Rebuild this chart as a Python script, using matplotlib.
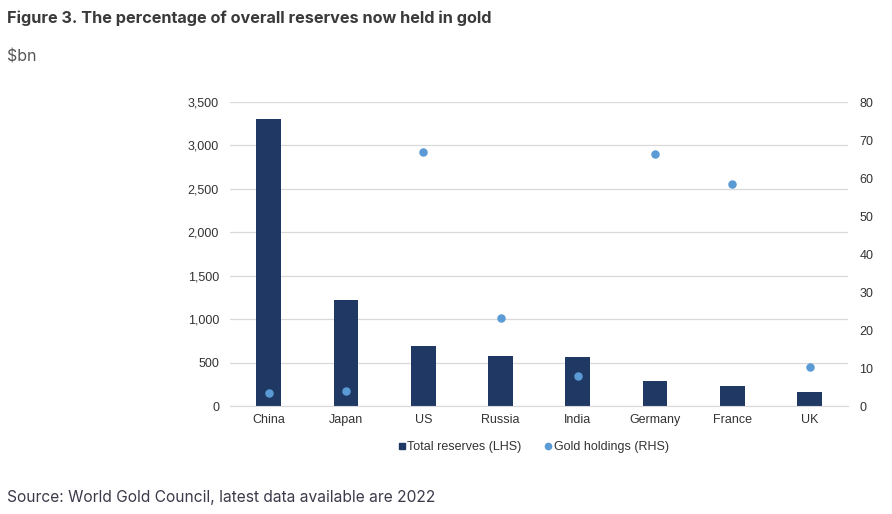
import matplotlib.pyplot as plt
import matplotlib.ticker as mticker
from matplotlib.lines import Line2D

# Data
countries = ["China", "Japan", "US", "Russia", "India", "Germany", "France", "UK"]
total_reserves = [3305, 1225, 695, 578, 562, 290, 232, 162]   # $bn, LHS
gold_share = [3.4, 3.9, 66.9, 23.2, 7.9, 66.2, 58.3, 10.2]      # %, RHS

BAR_COL = "#1f3864"
DOT_COL = "#5b9bd5"
TXT_COL = "#333333"
GRID_COL = "#d9d9d9"

plt.rcParams["font.family"] = ["Liberation Sans", "DejaVu Sans"]

fig = plt.figure(figsize=(8.92, 5.14), dpi=100)
ax = fig.add_axes([0.258, 0.21, 0.693, 0.5915])
ax2 = ax.twinx()

x = range(len(countries))
ax.bar(x, total_reserves, width=0.32, color=BAR_COL, zorder=2)
ax2.scatter(x, gold_share, s=26, color=DOT_COL, zorder=3)

ax.set_ylim(0, 3500)
ax.set_xlim(-0.5, len(countries) - 0.5)
ax2.set_ylim(0, 80)
ax.yaxis.set_major_locator(mticker.MultipleLocator(500))
ax.yaxis.set_major_formatter(mticker.FuncFormatter(lambda v, _: f"{v:,.0f}"))
ax2.yaxis.set_major_locator(mticker.MultipleLocator(10))

ax.grid(axis="y", color=GRID_COL, linewidth=0.9, zorder=0)
ax.set_axisbelow(True)
ax.set_xticks(list(x))
ax.set_xticklabels(countries)

for a in (ax, ax2):
    for side in ("top", "left", "right"):
        a.spines[side].set_visible(False)
    a.spines["bottom"].set_color(GRID_COL)
    a.tick_params(length=0, labelsize=9, colors=TXT_COL, pad=8)
ax.tick_params(axis="x", pad=6)
ax2.spines["bottom"].set_visible(False)

handles = [
    Line2D([], [], marker="s", linestyle="none", color=BAR_COL, markersize=4),
    Line2D([], [], marker="o", linestyle="none", color=DOT_COL, markersize=4.5),
]
fig.legend(handles, ["Total reserves (LHS)", "Gold holdings (RHS)"],
           loc="center", bbox_to_anchor=(0.595, 0.13), ncol=2, frameon=False,
           fontsize=9, handletextpad=-0.3, handlelength=1.5, columnspacing=1.4,
           labelcolor=TXT_COL)

fig.text(0.008, 0.965, "Figure 3. The percentage of overall reserves now held in gold",
         fontsize=11.7, fontweight="bold", color="#3a3a3a", family=["Inter", "DejaVu Sans"],
         va="center")
fig.text(0.008, 0.889, "$bn", fontsize=11.5, color="#555555",
         family=["Inter", "DejaVu Sans"], va="center")
fig.text(0.008, 0.033, "Source: World Gold Council, latest data available are 2022",
         fontsize=11.2, color="#3a3a4a", family=["Inter", "DejaVu Sans"], va="center")

fig.savefig("out.png", dpi=100)
